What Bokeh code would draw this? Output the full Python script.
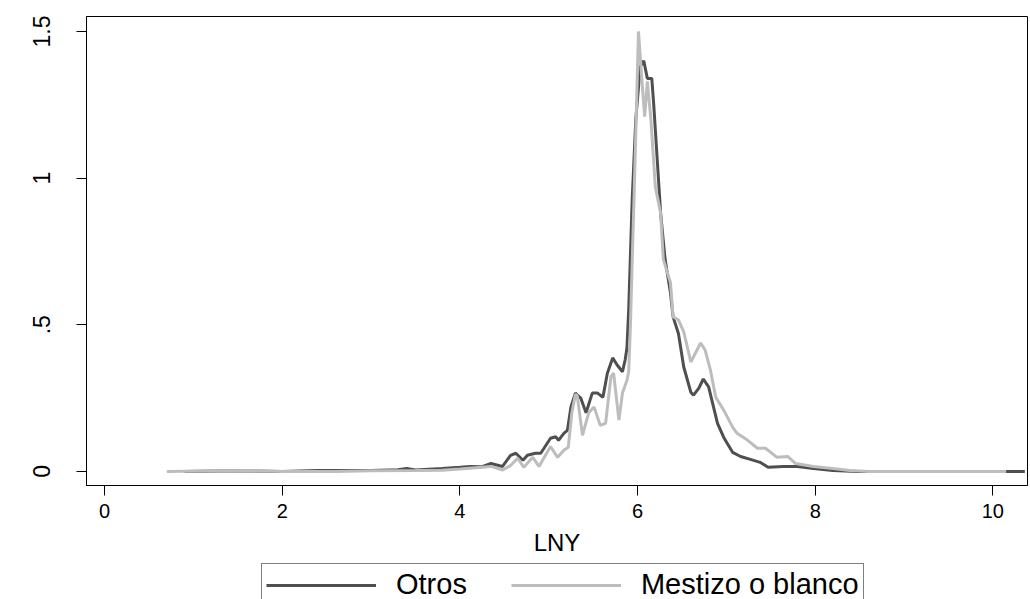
from bokeh.plotting import figure
from bokeh.models import Range1d, FixedTicker, Legend, LegendItem
from bokeh.layouts import column
from bokeh.embed import file_html
from bokeh.resources import INLINE

# Otros (dark)
otros_x = [0.9, 1.5, 2.0, 2.4, 3.0, 3.3, 3.4, 3.5, 3.8, 4.0, 4.12, 4.25, 4.35, 4.48, 4.57, 4.63,
           4.71, 4.76, 4.85, 4.91, 5.02, 5.08, 5.11, 5.17, 5.21, 5.25, 5.30, 5.36, 5.42, 5.49,
           5.55, 5.61, 5.66, 5.72, 5.77, 5.83, 5.86, 5.88, 5.90, 5.94, 5.98, 6.03, 6.07, 6.11,
           6.16, 6.18, 6.26, 6.31, 6.37, 6.40, 6.46, 6.52, 6.60, 6.63, 6.69, 6.74, 6.80, 6.90,
           6.97, 7.07, 7.16, 7.27, 7.38, 7.47, 7.64, 7.80, 7.98, 8.2, 8.47, 9.0, 9.5, 10.0, 10.36]
otros_y = [0.0, 0.002, 0.0, 0.003, 0.003, 0.006, 0.01, 0.005, 0.01, 0.014, 0.017, 0.016, 0.027,
           0.017, 0.055, 0.062, 0.038, 0.055, 0.062, 0.062, 0.113, 0.118, 0.106, 0.13, 0.14,
           0.22, 0.267, 0.25, 0.2, 0.267, 0.267, 0.253, 0.335, 0.387, 0.363, 0.34, 0.38, 0.42,
           0.55, 0.93, 1.2, 1.38, 1.40, 1.34, 1.34, 1.26, 0.88, 0.723, 0.61, 0.527, 0.47, 0.356,
           0.27, 0.26, 0.284, 0.315, 0.288, 0.164, 0.116, 0.065, 0.051, 0.041, 0.031, 0.014,
           0.017, 0.017, 0.01, 0.003, 0.0, 0.0, 0.0, 0.0, 0.0]

# Mestizo o blanco (light)
mest_x = [0.7, 1.6, 2.0, 2.6, 3.0, 3.5, 3.8, 4.0, 4.35, 4.48, 4.57, 4.65, 4.72, 4.82, 4.89, 5.02,
          5.10, 5.17, 5.22, 5.26, 5.30, 5.32, 5.38, 5.45, 5.51, 5.58, 5.64, 5.70, 5.73, 5.79,
          5.83, 5.88, 5.90, 5.92, 5.94, 5.96, 5.98, 6.01, 6.05, 6.08, 6.11, 6.15, 6.20, 6.26,
          6.29, 6.37, 6.40, 6.46, 6.52, 6.60, 6.71, 6.76, 6.82, 6.88, 6.97, 7.07, 7.12, 7.24,
          7.35, 7.44, 7.57, 7.69, 7.78, 7.98, 8.2, 8.39, 8.6, 9.0, 9.5, 10.15]
mest_y = [0.0, 0.003, 0.0, 0.0, 0.002, 0.003, 0.004, 0.008, 0.017, 0.005, 0.02, 0.045, 0.014,
          0.048, 0.017, 0.085, 0.048, 0.072, 0.082, 0.2, 0.262, 0.26, 0.123, 0.2, 0.22, 0.157,
          0.164, 0.322, 0.335, 0.175, 0.267, 0.31, 0.34, 0.5, 0.72, 0.93, 1.15, 1.50, 1.33,
          1.21, 1.33, 1.20, 0.97, 0.88, 0.723, 0.644, 0.527, 0.517, 0.476, 0.373, 0.438, 0.414,
          0.346, 0.253, 0.209, 0.151, 0.13, 0.106, 0.079, 0.079, 0.048, 0.051, 0.027, 0.017,
          0.01, 0.003, 0.0, 0.0, 0.0, 0.0]

x_ticks = [0, 2, 4, 6, 8, 10]
y_ticks = [0, 0.5, 1, 1.5]
y_tick_labels = {0: "0", 0.5: ".5", 1: "1", 1.5: "1.5"}
series_names = ["Otros", "Mestizo o blanco"]
series_colors = ["#4f4f4f", "#bdbdbd"]

FONT = "Liberation Sans"
W = 1029

p = figure(width=W, height=562, output_backend="svg", toolbar_location=None,
           x_range=Range1d(-0.204, 10.39), y_range=Range1d(-0.048, 1.551),
           min_border_left=86, min_border_right=2, min_border_top=16, min_border_bottom=77)
p.background_fill_color = "white"
p.border_fill_color = "white"
p.outline_line_color = "black"
p.outline_line_width = 1
p.xgrid.visible = False
p.ygrid.visible = False

p.line(otros_x, otros_y, line_color=series_colors[0], line_width=3)
p.line(mest_x, mest_y, line_color=series_colors[1], line_width=3)

xa = p.xaxis[0]
xa.ticker = FixedTicker(ticks=x_ticks)
xa.minor_tick_line_color = None
xa.major_tick_out = 10
xa.major_tick_in = 0
xa.major_label_text_font = FONT
xa.major_label_text_font_size = "20px"
xa.major_label_text_color = "black"
xa.major_label_standoff = 8
xa.axis_label = "LNY"
xa.axis_label_text_font = FONT
xa.axis_label_text_font_size = "24px"
xa.axis_label_text_font_style = "normal"
xa.axis_label_text_color = "black"
xa.axis_label_standoff = 8
xa.axis_line_color = "black"

ya = p.yaxis[0]
ya.ticker = FixedTicker(ticks=y_ticks)
ya.major_label_overrides = y_tick_labels
ya.minor_tick_line_color = None
ya.major_tick_out = 10
ya.major_tick_in = 0
ya.major_label_orientation = "vertical"
ya.major_label_text_font = FONT
ya.major_label_text_font_size = "23px"
ya.major_label_text_color = "black"
ya.major_label_standoff = 26
ya.axis_line_color = "black"

# legend strip below the plot; its lines use the same data but sit outside its view
q = figure(width=W, height=37, output_backend="svg", toolbar_location=None,
           x_axis_location=None, y_axis_location=None,
           x_range=Range1d(-0.204, 10.39), y_range=Range1d(100, 101),
           min_border_left=0, min_border_right=0, min_border_top=0, min_border_bottom=0)
q.outline_line_color = None
q.xgrid.visible = False
q.ygrid.visible = False
l1 = q.line(otros_x, otros_y, line_color=series_colors[0], line_width=3)
l2 = q.line(mest_x, mest_y, line_color=series_colors[1], line_width=3)

legend = Legend(items=[LegendItem(label=series_names[0], renderers=[l1]),
                       LegendItem(label=series_names[1], renderers=[l2])],
                orientation="horizontal", location=(175, -7))
legend.label_text_font = FONT
legend.label_text_font_size = "29px"
legend.label_text_color = "black"
legend.glyph_width = 110
legend.glyph_height = 20
legend.label_standoff = 20
legend.spacing = 44
legend.padding = 4
legend.margin = 0
legend.border_line_color = "black"
legend.border_line_width = 1
legend.background_fill_color = "white"
legend.background_fill_alpha = 1
q.add_layout(legend, "center")

layout = column(p, q, spacing=0)
open("out.html", "w").write(file_html(layout, INLINE))
